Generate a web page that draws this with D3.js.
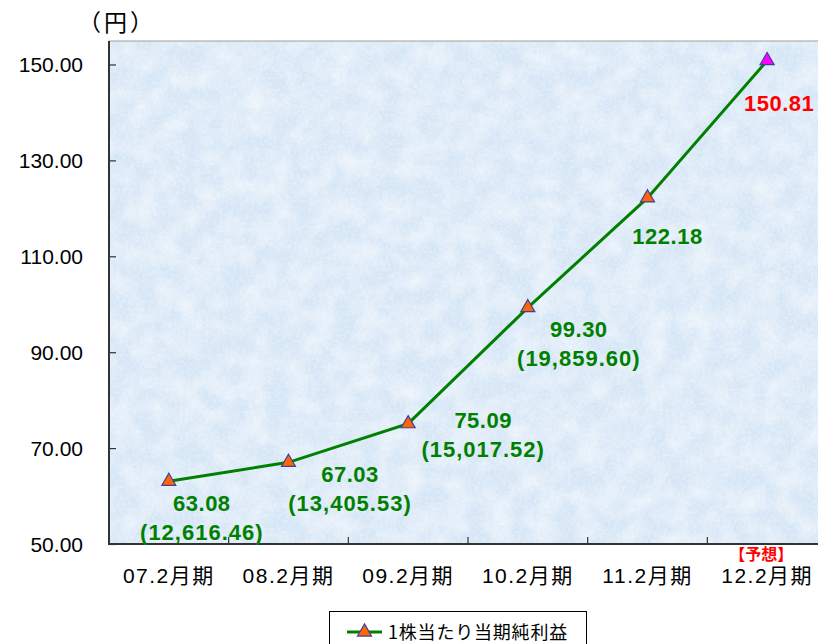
<!DOCTYPE html>
<html><head><meta charset="utf-8">
<script src="https://cdn.jsdelivr.net/npm/d3@7/dist/d3.min.js"></script>
<style>
body{margin:0;background:#fff;}
svg{display:block;}
</style>
</head><body>
<svg id="c" width="818" height="644"></svg>
<script>
const categories = ["07.2月期","08.2月期","09.2月期","10.2月期","11.2月期","12.2月期"];
const eps = [63.08, 67.03, 75.09, 99.30, 122.18, 150.81];
const totals = [12616.46, 13405.53, 15017.52, 19859.60, null, null];
const forecast = [false, false, false, false, false, true];
const yTicks = [50, 70, 90, 110, 130, 150];
const seriesName = "1株当たり当期純利益";
const unitLabel = "（円）";
const forecastLabel = "【予想】";
// label placement relative to each point (layout, not data)
const labelOffsets = [[33,29.5],[61.5,19.4],[75,4.4],[51,29.6],[20,45.8],[12,50.6]];

const svg = d3.select("#c");
const L = 109, R = 827, T = 41, B = 544;
const x = d3.scaleBand().domain(categories).range([L, R]);
const y = d3.scaleLinear().domain([50, 155]).range([B, T - 0.5]);

const defs = svg.append("defs");
const f = defs.append("filter").attr("id","tex").attr("x",0).attr("y",0).attr("width",1).attr("height",1);
f.append("feTurbulence").attr("type","fractalNoise").attr("baseFrequency","0.045").attr("numOctaves",5).attr("seed",11).attr("result","n");
f.append("feColorMatrix").attr("in","n").attr("type","matrix")
 .attr("values","0 0 0 0 1  0 0 0 0 1  0 0 0 0 1  1.3 0 0 0 -0.4");
const f2 = defs.append("filter").attr("id","tex2").attr("x",0).attr("y",0).attr("width",1).attr("height",1);
f2.append("feTurbulence").attr("type","fractalNoise").attr("baseFrequency","0.35").attr("numOctaves",2).attr("seed",3).attr("result","n");
f2.append("feColorMatrix").attr("in","n").attr("type","matrix")
 .attr("values","0 0 0 0 1  0 0 0 0 1  0 0 0 0 1  1.2 0 0 0 -0.45");

// plot background
svg.append("rect").attr("x",L).attr("y",T).attr("width",R-L).attr("height",B-T).attr("fill","#d6e6f6");
svg.append("rect").attr("x",L).attr("y",T).attr("width",R-L).attr("height",B-T).attr("fill","#fff").attr("filter","url(#tex)").attr("opacity",0.7);
svg.append("rect").attr("x",L).attr("y",T).attr("width",R-L).attr("height",B-T).attr("fill","#fff").attr("filter","url(#tex2)").attr("opacity",0.55);

// top border
svg.append("line").attr("x1",L).attr("x2",R).attr("y1",T).attr("y2",T).attr("stroke","#a0a0a0").attr("stroke-width",1.2);

const fontNum = "'Liberation Sans', Arial, 'Noto Sans CJK JP', sans-serif";

// y axis
const yAxis = d3.axisRight(y).tickValues(yTicks).tickSize(7).tickFormat("");
const ya = svg.append("g").attr("transform",`translate(${L},0)`).call(yAxis);
ya.select(".domain").remove();
ya.selectAll(".tick line").attr("stroke","#333").attr("stroke-width",1.2);
svg.append("g").selectAll("text").data(yTicks).join("text")
  .attr("x", 83).attr("y", d => y(d) + 7.5).attr("text-anchor","end")
  .attr("font-family", fontNum).attr("font-size", 21).attr("fill","#000")
  .text(d => d3.format(".2f")(d));

// x axis ticks (category boundaries, inward)
const bounds = categories.slice(1).map(c => x(c));
svg.append("g").selectAll("line").data(bounds).join("line")
  .attr("x1", d => d).attr("x2", d => d).attr("y1", B).attr("y2", B - 7)
  .attr("stroke","#333").attr("stroke-width",1.2);
svg.append("g").selectAll("text").data(categories).join("text")
  .attr("x", d => x(d) + x.bandwidth()/2).attr("y", 583).attr("text-anchor","middle")
  .attr("font-family", fontNum).attr("font-size", 21).attr("letter-spacing", 1.5).attr("fill","#000")
  .text(d => d);

// axis lines
svg.append("line").attr("x1",L).attr("x2",L).attr("y1",T).attr("y2",B+1).attr("stroke","#333").attr("stroke-width",2);
svg.append("line").attr("x1",L-1).attr("x2",R).attr("y1",B).attr("y2",B).attr("stroke","#333").attr("stroke-width",2);

// unit
svg.append("text").attr("x",117).attr("y",31).attr("text-anchor","middle")
  .attr("font-family","'Noto Sans CJK JP', sans-serif").attr("font-size",23).attr("letter-spacing",3).attr("fill","#000").text(unitLabel);

// forecast tag
svg.append("text").attr("x", x(categories[5]) + x.bandwidth()/2 - 6).attr("y", 560).attr("text-anchor","middle")
  .attr("font-family","'Noto Sans CJK JP', sans-serif").attr("font-size",16).attr("font-weight","bold").attr("fill","#ff0000").text(forecastLabel);

// line
const pts = categories.map((c,i) => ({c, v: eps[i], t: totals[i], fc: forecast[i], o: labelOffsets[i]}));
const cx = d => x(d.c) + x.bandwidth()/2;
svg.append("path").datum(pts)
  .attr("d", d3.line().x(cx).y(d => y(d.v)))
  .attr("fill","none").attr("stroke","#008000").attr("stroke-width",3);

const tri = d3.symbol().type(d3.symbolTriangle).size(85);
svg.append("g").selectAll("path").data(pts).join("path")
  .attr("d", tri).attr("transform", d => `translate(${cx(d)},${y(d.v)})`)
  .attr("fill", d => d.fc ? "#ff00ff" : "#ff6600").attr("stroke","#3f3fa0").attr("stroke-width",1.2);

// labels
const lg = svg.append("g").attr("font-family", fontNum).attr("font-weight","bold").attr("font-size",22);
pts.forEach(d => {
  const lx = cx(d) + d.o[0], ly = y(d.v) + d.o[1];
  const col = d.fc ? "#ff0000" : "#008000";
  lg.append("text").attr("x",lx).attr("y",ly).attr("text-anchor","middle").attr("fill",col).attr("letter-spacing",0.5)
    .text(d3.format(".2f")(d.v));
  if (d.t != null) {
    lg.append("text").attr("x",lx).attr("y",ly+29).attr("text-anchor","middle").attr("fill",col).attr("letter-spacing",1)
      .text("(" + d3.format(",.2f")(d.t) + ")");
  }
});

// legend
svg.append("rect").attr("x",329.5).attr("y",611.5).attr("width",257).attr("height",40).attr("fill","#fff").attr("stroke","#000").attr("stroke-width",1);
svg.append("line").attr("x1",347).attr("x2",382).attr("y1",632).attr("y2",632).attr("stroke","#008000").attr("stroke-width",3);
svg.append("path").attr("d",tri).attr("transform","translate(364.5,632)").attr("fill","#ff6600").attr("stroke","#3f3fa0").attr("stroke-width",1.2);
svg.append("text").attr("x",388).attr("y",639).attr("font-family","'Noto Sans CJK JP', sans-serif").attr("font-size",18).attr("letter-spacing",0.8).attr("fill","#000").text(seriesName);
</script>
</body></html>
